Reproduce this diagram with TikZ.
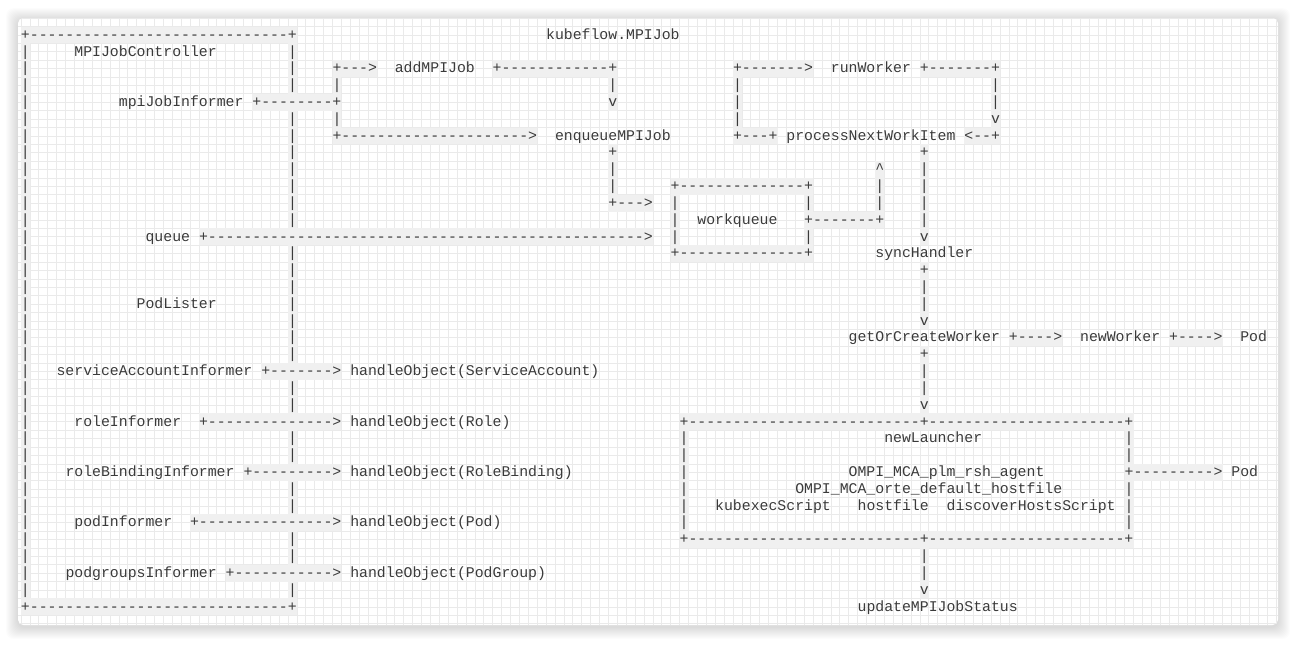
\documentclass[tikz,border=0pt]{standalone}
\usepackage{fontspec}
\setmonofont{Liberation Mono}
\ExplSyntaxOn
\newcommand\dsh[1]{\prg_replicate:nn{#1}{-}}
\ExplSyntaxOff
\definecolor{txtc}{HTML}{3A3A3A}
\definecolor{gridc}{HTML}{EAEAEA}
\definecolor{bandc}{HTML}{F0F0F0}
% text piece: name, row, col, text
\newcommand\T[4]{\node[txt] (#1) at ({21+8.9*(#3)},{39.2+16.82*(#2)}) {#4};}
% vertical bars: name, col, first row, last row
\newcommand\VR[4]{\foreach \r in {#3,...,#4}{\node[txt] (#1-\r) at ({21+8.9*(#2)},{39.2+16.82*\r}) {|};}}
% gray bands: horizontal (row, c1, c2), vertical (col, r1, r2)
\newcommand\hb[3]{\fill[bandc] ({21+8.9*(#2)},{26.6+16.82*(#1)}) rectangle ({21+8.9*(#3+1)},{26.6+16.82*(#1+1)});}
\newcommand\vb[3]{\fill[bandc] ({21+8.9*(#1)},{26.6+16.82*(#2)}) rectangle ({21+8.9*(#1+1)},{26.6+16.82*(#3+1)});}
\begin{document}
\begin{tikzpicture}[x=0.75pt,y=-0.75pt,
  txt/.style={anchor=base west,inner sep=0pt,outer sep=0pt,text=txtc,
    font=\ttfamily\fontsize{11.12pt}{12pt}\selectfont}]
\useasboundingbox (0,0) rectangle (1297,644);
% card shadow
\foreach \i in {1,...,12}{
  \fill[black,opacity=0.012,rounded corners=6] ({18-\i},{18-\i+2}) rectangle ({1278+\i},{625+\i+2});
}
\fill[white,rounded corners=4] (18,18) rectangle (1278,625);
\begin{scope}
\clip[rounded corners=4] (18,18) rectangle (1278,625);
\foreach \k in {0,...,141} \draw[gridc,line width=0.6pt] ({21+8.9*\k},18) -- ({21+8.9*\k},625);
\foreach \k in {-1,...,71} \draw[gridc,line width=0.6pt] (18,{26.6+8.41*\k}) -- (1278,{26.6+8.41*\k});
% bands behind line art
\hb{0}{0}{30} \hb{34}{0}{30}
\vb{0}{0}{34} \vb{30}{0}{34}
\hb{2}{35}{39} \hb{2}{53}{66} \hb{2}{80}{88} \hb{2}{101}{109}
\hb{4}{26}{35}
\hb{6}{35}{57} \hb{6}{80}{84} \hb{6}{106}{109}
\vb{35}{2}{6} \vb{66}{2}{4} \vb{80}{2}{6} \vb{109}{2}{6}
\vb{66}{7}{10} \hb{10}{66}{70}
\vb{96}{8}{11} \hb{11}{88}{96}
\vb{101}{7}{12}
\hb{9}{73}{88} \hb{13}{73}{88} \vb{73}{9}{13} \vb{88}{9}{13}
\hb{12}{20}{70}
\vb{101}{14}{17} \vb{101}{19}{22}
\hb{18}{111}{116} \hb{18}{129}{134}
\hb{20}{27}{35} \hb{23}{20}{35} \hb{26}{25}{35} \hb{29}{19}{35} \hb{32}{23}{35}
\hb{23}{74}{124} \hb{30}{74}{124} \vb{74}{23}{30} \vb{124}{23}{30}
\hb{26}{124}{134}
\vb{101}{30}{33}
\end{scope}
% left controller box
\T{r0a}{0}{0}{+\dsh{29}+}
\T{r34a}{34}{0}{+\dsh{29}+}
\VR{lb}{0}{1}{33}
\foreach \r in {1,2,3,5,6,7,8,9,10,11,13,14,15,16,17,18,19,21,22,24,25,27,28,30,31,33}{
  \node[txt] (rb-\r) at ({21+8.9*30},{39.2+16.82*\r}) {|};}
\T{title}{0}{59}{kubeflow.MPIJob}
\T{ctl}{1}{6}{MPIJobController}
% informer and enqueue loop
\T{a1}{2}{35}{+\dsh{3}>}
\T{add}{2}{42}{addMPIJob}
\T{a2}{2}{53}{+\dsh{12}+}
\VR{c35a}{35}{3}{3}
\VR{c35b}{35}{5}{5}
\VR{c66a}{66}{3}{3}
\T{v66a}{4}{66}{v}
\T{mji}{4}{11}{mpiJobInformer}
\T{a5}{4}{26}{+\dsh{8}+}
\T{a6}{6}{35}{+\dsh{21}>}
\T{enq}{6}{60}{enqueueMPIJob}
\T{p66}{7}{66}{+}
\VR{c66b}{66}{8}{9}
\T{a9}{10}{66}{+\dsh{3}>}
% workqueue box
\T{wqt}{9}{73}{+\dsh{14}+}
\T{wqb}{13}{73}{+\dsh{14}+}
\VR{c73}{73}{10}{12}
\VR{c88a}{88}{10}{10}
\VR{c88b}{88}{12}{12}
\T{wq}{11}{76}{workqueue}
\T{a10}{11}{88}{+\dsh{7}+}
\VR{c96}{96}{9}{10}
\T{up96}{8}{96}{\textasciicircum}
\T{queue}{12}{14}{queue}
\T{a11}{12}{20}{+\dsh{49}>}
% worker loop
\T{a3}{2}{80}{+\dsh{7}>}
\T{run}{2}{91}{runWorker}
\T{a4}{2}{101}{+\dsh{7}+}
\VR{c80}{80}{3}{5}
\VR{c109}{109}{3}{4}
\T{v109}{5}{109}{v}
\T{a7}{6}{80}{+\dsh{3}+}
\T{pnwi}{6}{86}{processNextWorkItem}
\T{a8}{6}{106}{<\dsh{2}+}
% main vertical flow
\T{p101a}{7}{101}{+}
\VR{c101a}{101}{8}{11}
\T{v101a}{12}{101}{v}
\T{sync}{13}{96}{syncHandler}
\T{p101b}{14}{101}{+}
\VR{c101b}{101}{15}{16}
\T{v101b}{17}{101}{v}
\T{pl}{16}{13}{PodLister}
\T{gocw}{18}{93}{getOrCreateWorker}
\T{a12}{18}{111}{+\dsh{4}>}
\T{nw}{18}{119}{newWorker}
\T{a13}{18}{129}{+\dsh{4}>}
\T{pod1}{18}{137}{Pod}
\T{p101c}{19}{101}{+}
\VR{c101c}{101}{20}{21}
\T{v101c}{22}{101}{v}
% informers
\T{sai}{20}{4}{serviceAccountInformer}
\T{a14}{20}{27}{+\dsh{7}>}
\T{hsa}{20}{37}{handleObject(ServiceAccount)}
\T{ri}{23}{6}{roleInformer}
\T{a15}{23}{20}{+\dsh{14}>}
\T{hr}{23}{37}{handleObject(Role)}
\T{rbi}{26}{5}{roleBindingInformer}
\T{a16}{26}{25}{+\dsh{9}>}
\T{hrb}{26}{37}{handleObject(RoleBinding)}
\T{pi}{29}{6}{podInformer}
\T{a17}{29}{19}{+\dsh{15}>}
\T{hp}{29}{37}{handleObject(Pod)}
\T{pgi}{32}{5}{podgroupsInformer}
\T{a18}{32}{23}{+\dsh{11}>}
\T{hpg}{32}{37}{handleObject(PodGroup)}
% newLauncher box
\T{nlt}{23}{74}{+\dsh{26}+\dsh{22}+}
\T{nlb}{30}{74}{+\dsh{26}+\dsh{22}+}
\VR{c74}{74}{24}{29}
\VR{c124a}{124}{24}{25}
\VR{c124b}{124}{27}{29}
\T{nl}{24}{97}{newLauncher}
\T{ompi1}{26}{93}{OMPI\_MCA\_plm\_rsh\_agent}
\T{a19}{26}{124}{+\dsh{9}>}
\T{pod2}{26}{136}{Pod}
\T{ompi2}{27}{87}{OMPI\_MCA\_orte\_default\_hostfile}
\T{kes}{28}{78}{kubexecScript}
\T{hf}{28}{94}{hostfile}
\T{dhs}{28}{104}{discoverHostsScript}
\VR{c101d}{101}{31}{32}
\T{v101d}{33}{101}{v}
\T{upd}{34}{94}{updateMPIJobStatus}
\end{tikzpicture}
\end{document}
